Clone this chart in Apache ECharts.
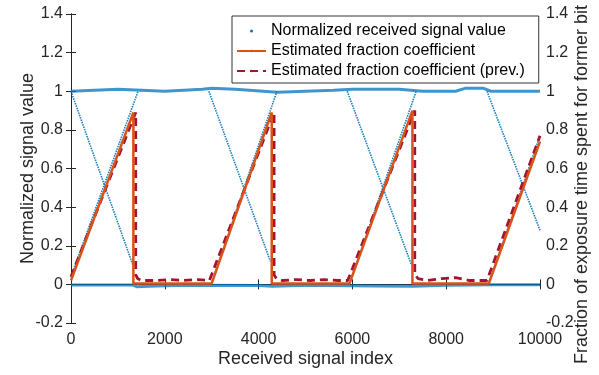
<!DOCTYPE html>
<html>
<head>
<meta charset="utf-8">
<script src="https://cdn.jsdelivr.net/npm/echarts@6/dist/echarts.min.js"></script>
<style>
  html, body { margin: 0; padding: 0; background: #fff; }
  #chart { width: 599px; height: 375px; }
</style>
</head>
<body>
<div id="chart"></div>
<script>
// received signal: bands near 1 and 0, plus the transition diagonals
var highBand = [[0, 1.0], [1000, 1.01], [2000, 1.0], [2800, 1.01], [3000, 1.015], [3500, 1.01],
  [4100, 1.0], [4400, 0.995], [5000, 1.0], [5600, 1.005], [6000, 1.01], [7000, 1.01],
  [7500, 1.0], [8200, 1.0], [8400, 1.015], [8800, 1.015], [8950, 1.0], [10000, 1.0]];
var lowBand = [[0, -0.003], [1300, -0.003], [1400, -0.012], [1800, -0.008], [2500, -0.004],
  [4000, -0.006], [4300, -0.01], [5000, -0.004], [6500, -0.008], [7300, -0.01],
  [8000, -0.004], [9000, -0.002], [10000, -0.002]];
var fallLines = [
  [[0, 1.0], [1320, 0.1]],
  [[2940, 1.0], [4250, 0.12]],
  [[5890, 1.0], [7260, 0.1]],
  [[8870, 1.0], [10000, 0.28]]
];
var riseLines = [
  [[0, 0.04], [1430, 1.0]],
  [[2990, 0.0], [4390, 1.0]],
  [[5930, 0.0], [7360, 1.0]],
  [[8900, 0.0], [10000, 0.77]]
];

// estimated fraction coefficient
var estFraction = [[0, 0.02], [1330, 0.89], [1330, 0.005], [3000, 0.005], [4280, 0.89],
  [4280, 0.005], [5940, 0.005], [7280, 0.9], [7280, 0.005], [8910, 0.005], [10000, 0.74]];

// estimated fraction coefficient (prev.)
var estFractionPrev = [[0, 0.04], [1380, 0.89], [1380, 0.05], [1420, 0.03], [1500, 0.02],
  [1800, 0.02], [2100, 0.025], [2400, 0.02], [2700, 0.025], [2950, 0.02],
  [4330, 0.89], [4330, 0.05], [4380, 0.03], [4500, 0.02], [4800, 0.025], [5100, 0.02],
  [5400, 0.025], [5700, 0.02], [5900, 0.02],
  [7330, 0.9], [7330, 0.05], [7400, 0.03], [7600, 0.02], [7900, 0.03], [8200, 0.035],
  [8500, 0.02], [8870, 0.02], [10000, 0.77]];

var xTicks = { min: 0, max: 10000, interval: 2000 };
var yTicks = { min: -0.2, max: 1.4, interval: 0.2 };

var font = 'Liberation Sans, Arial, Helvetica, sans-serif';
var ink = '#262626';
var blue = '#0072BD';
var sigName = 'Normalized received signal value';

var chart = echarts.init(document.getElementById('chart'));

function blueSeries(data, width, dash, alpha) {
  return {
    name: sigName,
    type: 'line',
    data: data,
    symbol: 'none',
    color: blue,
    z: 1,
    silent: true,
    animation: false,
    lineStyle: { color: blue, width: width, type: dash, opacity: alpha }
  };
}

var series = [];
series.push(blueSeries(highBand, 3, 'solid', 0.75));
series.push(blueSeries(lowBand, 3, 'solid', 0.75));
fallLines.concat(riseLines).forEach(function (seg) {
  series.push(blueSeries(seg, 1.6, [1.5, 1], 0.9));
});
series.push({
  name: 'Estimated fraction coefficient',
  type: 'line',
  data: estFraction,
  symbol: 'none',
  color: '#D95319',
  z: 3,
  animation: false,
  lineStyle: { color: '#D95319', width: 2.5 }
});
series.push({
  name: 'Estimated fraction coefficient (prev.)',
  type: 'line',
  data: estFractionPrev,
  symbol: 'none',
  color: '#A2142F',
  z: 2,
  animation: false,
  lineStyle: { color: '#A2142F', width: 2.8, type: [8, 5] }
});

function plainNum(v) { return String(v); }

var axisCommon = {
  axisLine: { show: true, lineStyle: { color: ink, width: 1 } },
  axisTick: { show: true, inside: true, length: 5, lineStyle: { color: ink } },
  splitLine: { show: false },
  axisLabel: { color: ink, fontSize: 16, fontFamily: font }
};

chart.setOption({
  animation: false,
  textStyle: { fontFamily: font },
  grid: { left: 71, right: 58, top: 14, bottom: 52 },
  legend: {
    orient: 'vertical',
    left: 232,
    top: 16,
    padding: [5, 14, 2, 4],
    itemGap: 0,
    itemWidth: 29,
    itemHeight: 3,
    backgroundColor: '#fff',
    borderColor: '#333',
    borderWidth: 1,
    textStyle: { fontSize: 16, color: '#000', lineHeight: 20, fontFamily: font },
    data: [
      { name: sigName, icon: 'circle' },
      { name: 'Estimated fraction coefficient' },
      { name: 'Estimated fraction coefficient (prev.)' }
    ]
  },
  xAxis: [
    Object.assign({}, axisCommon, {
      type: 'value', position: 'bottom',
      min: xTicks.min, max: xTicks.max, interval: xTicks.interval,
      name: 'Received signal index', nameLocation: 'middle', nameGap: 27,
      nameMoveOverlap: false,
      nameTextStyle: { fontSize: 18, color: ink, fontFamily: font },
      axisLabel: { color: ink, fontSize: 16, fontFamily: font, margin: 9, formatter: plainNum }
    }),
    Object.assign({}, axisCommon, {
      type: 'value', position: 'top',
      min: xTicks.min, max: xTicks.max, interval: xTicks.interval,
      axisLabel: { show: false }
    })
  ],
  yAxis: [
    Object.assign({}, axisCommon, {
      type: 'value', position: 'left',
      min: yTicks.min, max: yTicks.max, interval: yTicks.interval,
      name: 'Normalized signal value', nameLocation: 'middle', nameGap: 34, nameRotate: 90,
      nameMoveOverlap: false,
      nameTextStyle: { fontSize: 18, color: ink, fontFamily: font },
      axisLabel: { color: ink, fontSize: 16, fontFamily: font, margin: 8 }
    }),
    Object.assign({}, axisCommon, {
      type: 'value', position: 'right',
      min: yTicks.min, max: yTicks.max, interval: yTicks.interval,
      name: 'Fraction of exposure time spent for former bit', nameLocation: 'middle',
      nameGap: 33, nameRotate: 90, nameMoveOverlap: false,
      nameTextStyle: { fontSize: 18, color: ink, fontFamily: font, padding: [0, 32, 0, 0] },
      axisLabel: { color: ink, fontSize: 16, fontFamily: font, margin: 6 }
    })
  ],
  series: series
});
</script>
</body>
</html>
